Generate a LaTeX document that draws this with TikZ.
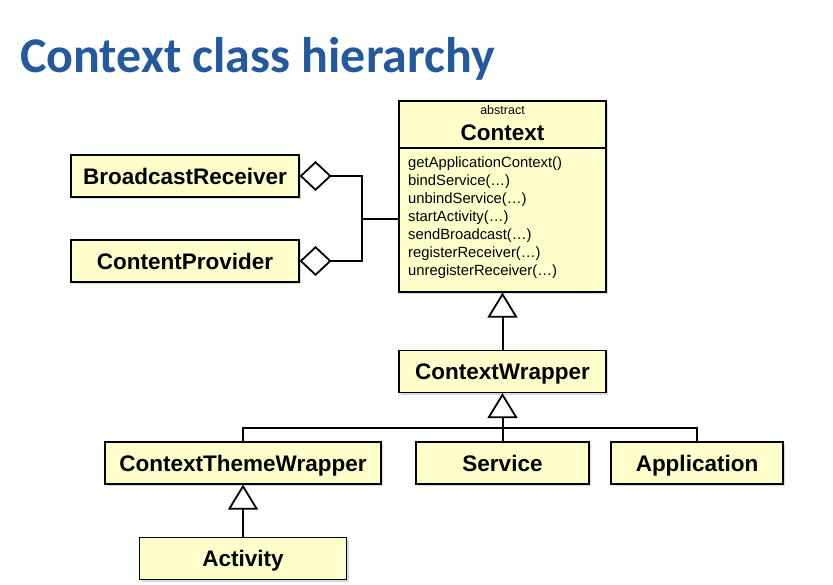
\documentclass[tikz,border=0pt]{standalone}
\usepackage{fontspec}
\setmainfont{Liberation Sans}
\newfontfamily\titlefont{Carlito}
\usepackage{tikz}
\usetikzlibrary{arrows.meta,positioning,calc,shadows}
\definecolor{titleblue}{RGB}{37,89,158}
\definecolor{clsyellow}{RGB}{255,255,204}

\begin{document}
\begin{tikzpicture}[x=1pt, y=-1pt,
    cls/.style={draw, line width=1.1pt, fill=clsyellow, inner sep=0pt, minimum height=42pt,
        text height=16.5pt, text depth=0.5pt,
        font=\fontsize{22.5}{26}\selectfont\bfseries,
        drop shadow={shadow xshift=2pt, shadow yshift=-2pt, opacity=0.3}},
    meth/.style={inner sep=0pt, font=\fontsize{14.8}{18}\selectfont},
    conn/.style={line width=2pt},
    inh/.style={conn, -{Triangle[open, length=25pt, width=30pt, fill=white, line width=1.8pt]}},
    aggr/.style={conn, -{Diamond[open, length=32pt, width=30pt, fill=white, line width=1.8pt]}}
]
\useasboundingbox (0,0) rectangle (833,584);

% title
\node[anchor=base west, inner sep=0pt, text=titleblue, font=\fontsize{50}{60}\selectfont\titlefont\bfseries]
    (title) at (20,72) {Context class hierarchy};

% abstract class Context
\node[cls, minimum width=207pt, minimum height=191pt] (ctx) at (502.5,196.5) {};
\node[inner sep=0pt, font=\fontsize{12.5}{14}\selectfont] (abs) at (502.5,110) {abstract};
\node[inner sep=0pt, anchor=base, font=\fontsize{22.5}{26}\selectfont\bfseries] (ctxname) at (502.5,140) {Context};
\coordinate (sep) at (0,148);
\draw[line width=1.1pt] (ctx.west |- sep) -- (ctx.east |- sep);
\foreach \m [count=\i from 0] in {{getApplicationContext()}, {bindService(…)}, {unbindService(…)},
    {startActivity(…)}, {sendBroadcast(…)}, {registerReceiver(…)}, {unregisterReceiver(…)}}
    \node[meth, anchor=base west] (m\i) at (408,{167+18*\i}) {\m};

% other classes
\node[cls, minimum width=228pt] (brc) at (185,176) {BroadcastReceiver};
\node[cls, minimum width=228pt] (cp) at (185,261) {ContentProvider};
\node[cls, minimum width=207pt] (cw) at (502.5,371.5) {ContextWrapper};
\node[cls, minimum width=276pt] (ctw) at (243,463) {ContextThemeWrapper};
\node[cls, minimum width=173pt] (srv) at (502.5,463) {Service};
\node[cls, minimum width=172pt] (app) at (697,463) {Application};
\node[cls, minimum width=207pt] (act) at (243,558.5) {Activity};

% aggregation
\coordinate (j) at (362,219);
\draw[conn] (j) -- (j -| ctx.west);
\draw[aggr] (j) |- (brc.east);
\draw[aggr] (j) |- (cp.east);

% inheritance
\coordinate (bar) at (502.5,428);
\draw[inh] (cw) -- (ctx);
\draw[inh] (srv) -- (cw);
\draw[conn] (ctw.north) |- (bar) -| (app.north);
\draw[inh] (act) -- (ctw);
\end{tikzpicture}
\end{document}
